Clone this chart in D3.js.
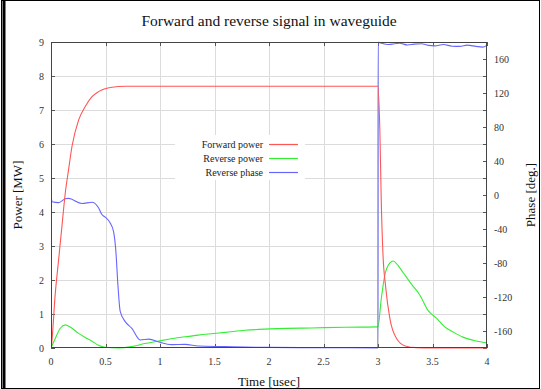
<!DOCTYPE html>
<html>
<head>
<meta charset="utf-8">
<script src="https://cdn.jsdelivr.net/npm/d3@7"></script>
<style>
  body { margin: 0; background: #fff; }
  svg { display: block; font-family: "Liberation Serif", "DejaVu Serif", serif; }
</style>
</head>
<body>
<svg id="chart" width="541" height="389"></svg>
<script>
// time axis (usec)
const timeTicks = [0, 0.5, 1, 1.5, 2, 2.5, 3, 3.5, 4];
const powerTicks = [0, 1, 2, 3, 4, 5, 6, 7, 8, 9];
const phaseLabelTicks = [-160, -120, -80, -40, 0, 40, 80, 120, 160];

// Forward power [MW]
const fwdTime = [0, 0.003, 0.039, 0.07, 0.10, 0.131, 0.161, 0.192, 0.253, 0.314, 0.376, 0.436, 0.559, 0.68, 1.0, 2.0, 2.999,
  3.017, 3.03, 3.045, 3.07, 3.11, 3.17, 3.25, 3.35, 3.5, 4.0];
const fwdPower = [0, 0.05, 1.6, 2.6, 3.57, 4.56, 5.24, 5.92, 6.7, 7.1, 7.39, 7.54, 7.67, 7.7, 7.7, 7.7, 7.7,
  6.4, 4.3, 2.8, 1.8, 0.85, 0.28, 0.06, 0.01, 0, 0];

// Reverse power [MW]
const revTime = [0, 0.039, 0.085, 0.131, 0.192, 0.253, 0.314, 0.376, 0.436, 0.497, 0.62, 0.74, 0.86, 0.98, 1.1, 1.23, 1.35,
  1.47, 1.6, 1.78, 2.08, 2.39, 2.7, 2.999, 3.03, 3.063, 3.109, 3.139, 3.185, 3.23, 3.307, 3.383, 3.46, 3.536, 3.612,
  3.689, 3.78, 3.872, 3.963, 4.0];
const revPower = [0, 0.28, 0.58, 0.68, 0.58, 0.43, 0.31, 0.2, 0.08, 0.02, 0.0, 0.04, 0.13, 0.2, 0.27, 0.33, 0.38,
  0.42, 0.46, 0.52, 0.57, 0.59, 0.61, 0.62, 1.45, 2.15, 2.5, 2.56, 2.42, 2.22, 1.88, 1.56, 1.1, 0.88, 0.62,
  0.47, 0.32, 0.23, 0.17, 0.15];

// Reverse phase [deg.]
const phaseTime = [0, 0.01, 0.07, 0.131, 0.161, 0.284, 0.376, 0.436, 0.467, 0.497, 0.543, 0.574, 0.595, 0.614, 0.635,
  0.681, 0.742, 0.818, 0.9, 0.99, 1.108, 1.23, 1.352, 1.597, 1.78, 2.0, 2.5, 2.999,
  3.001, 3.05, 3.1, 3.15, 3.2, 3.27, 3.33, 3.4, 3.46, 3.52, 3.6, 3.68, 3.75, 3.82, 3.9, 3.96, 4.0];
const phaseDeg = [0, -8, -9, -4.5, -4, -10, -8.5, -15, -23, -26, -33, -43, -66, -106, -137,
  -149, -157, -170.5, -169.5, -173, -176, -175.7, -177.7, -178.4, -179, -179.3, -179.6, -179.8,
  179.5, 178, 177, 178, 178.5, 176.5, 177.5, 178, 176, 175.5, 177, 175, 174.8, 176.3, 174.8, 174, 176];

const svg = d3.select('#chart');
const W = 541, H = 389;
const plotLeft = 51, plotRight = 487, plotTop = 42, plotBottom = 348;

const x = d3.scaleLinear().domain([0, 4]).range([plotLeft, plotRight]);
const y = d3.scaleLinear().domain([0, 9]).range([plotBottom, plotTop]);
const y2 = d3.scaleLinear().domain([-180, 180]).range([plotBottom, plotTop]);

// outer frame
svg.append('rect').attr('x', 0).attr('y', 0).attr('width', W).attr('height', H).attr('fill', '#fff');
svg.append('rect').attr('x', 1.5).attr('y', 0.5).attr('width', W - 3).attr('height', H - 1)
  .attr('fill', 'none').attr('stroke', '#000').attr('stroke-width', 1);
svg.append('line').attr('x1', 4).attr('x2', 4).attr('y1', 0).attr('y2', H)
  .attr('stroke', '#000').attr('stroke-width', 3);

// grid
const grid = svg.append('g').attr('stroke', '#dcdcdc').attr('stroke-width', 1);
grid.selectAll('.gx').data(timeTicks.slice(1, -1)).join('line')
  .attr('x1', d => Math.round(x(d)) + 0.5).attr('x2', d => Math.round(x(d)) + 0.5)
  .attr('y1', plotTop).attr('y2', plotBottom);
grid.selectAll('.gy').data(powerTicks.slice(1, -1)).join('line')
  .attr('x1', plotLeft).attr('x2', plotRight)
  .attr('y1', d => Math.round(y(d)) + 0.5).attr('y2', d => Math.round(y(d)) + 0.5);

// ticks (inward)
const tk = svg.append('g').attr('stroke', '#555').attr('stroke-width', 1);
tk.selectAll('.tb').data(timeTicks).join('line')
  .attr('x1', d => Math.round(x(d)) + 0.5).attr('x2', d => Math.round(x(d)) + 0.5)
  .attr('y1', plotBottom).attr('y2', plotBottom - 4);
tk.selectAll('.tt').data(timeTicks).join('line')
  .attr('x1', d => Math.round(x(d)) + 0.5).attr('x2', d => Math.round(x(d)) + 0.5)
  .attr('y1', plotTop).attr('y2', plotTop + 4);
tk.selectAll('.tl').data(powerTicks).join('line')
  .attr('x1', plotLeft).attr('x2', plotLeft + 4)
  .attr('y1', d => Math.round(y(d)) + 0.5).attr('y2', d => Math.round(y(d)) + 0.5);
tk.selectAll('.tr').data(d3.range(-180, 181, 20)).join('line')
  .attr('x1', plotRight).attr('x2', plotRight - 4)
  .attr('y1', d => Math.round(y2(d)) + 0.5).attr('y2', d => Math.round(y2(d)) + 0.5);

// tick labels
const lab = svg.append('g').attr('font-size', 10).attr('fill', '#333');
lab.selectAll('.lx').data(timeTicks).join('text')
  .attr('x', d => x(d)).attr('y', 365).attr('text-anchor', 'middle').text(d => d);
lab.selectAll('.ly').data(powerTicks).join('text')
  .attr('x', 44).attr('y', d => y(d) + 3.5).attr('text-anchor', 'end').text(d => d);
lab.selectAll('.ly2').data(phaseLabelTicks).join('text')
  .attr('x', 494).attr('y', d => y2(d) + 3.5).attr('text-anchor', 'start').text(d => d);

// legend (opaque key)
const legendItems = [
  { name: 'Forward power', color: '#ff5555' },
  { name: 'Reverse power', color: '#33ee33' },
  { name: 'Reverse phase', color: '#6666ff' }
];
svg.append('rect').attr('x', 175).attr('y', 135).attr('width', 130).attr('height', 45).attr('fill', '#fff');
const lg = svg.append('g').attr('font-size', 10).attr('fill', '#222');
legendItems.forEach((d, i) => {
  const ly = 144 + i * 14;
  lg.append('text').attr('x', 263).attr('y', ly + 3.5).attr('text-anchor', 'end').text(d.name);
  lg.append('line').attr('x1', 269).attr('x2', 298).attr('y1', ly + 0.5).attr('y2', ly + 0.5)
    .attr('stroke', d.color).attr('stroke-width', 1.2);
});

// curves
svg.append('clipPath').attr('id', 'plotclip').append('rect')
  .attr('x', plotLeft).attr('y', plotTop - 1).attr('width', plotRight - plotLeft).attr('height', plotBottom - plotTop + 2);
const plot = svg.append('g').attr('clip-path', 'url(#plotclip)');

const powerLine = d3.line().x(d => x(d[0])).y(d => y(d[1])).curve(d3.curveMonotoneX);
const phaseLine = d3.line().x(d => x(d[0])).y(d => y2(d[1])).curve(d3.curveMonotoneX);

plot.append('path').datum(d3.zip(revTime, revPower)).attr('d', powerLine)
  .attr('fill', 'none').attr('stroke', legendItems[1].color).attr('stroke-width', 1.1);
plot.append('path').datum(d3.zip(phaseTime, phaseDeg)).attr('d', phaseLine)
  .attr('fill', 'none').attr('stroke', legendItems[2].color).attr('stroke-width', 1.1);
plot.append('path').datum(d3.zip(fwdTime, fwdPower)).attr('d', powerLine)
  .attr('fill', 'none').attr('stroke', legendItems[0].color).attr('stroke-width', 1.1);

// plot border
svg.append('rect').attr('x', plotLeft + 0.5).attr('y', plotTop + 0.5)
  .attr('width', plotRight - plotLeft - 1).attr('height', plotBottom - plotTop - 1)
  .attr('fill', 'none').attr('stroke', '#444').attr('stroke-width', 1);

// titles
svg.append('text').attr('x', 269).attr('y', 26).attr('text-anchor', 'middle')
  .attr('font-size', 15.5).attr('fill', '#111').text('Forward and reverse signal in waveguide');
svg.append('text').attr('x', 269).attr('y', 386).attr('text-anchor', 'middle')
  .attr('font-size', 13).attr('fill', '#111').text('Time [usec]');
svg.append('text').attr('transform', 'translate(22,195) rotate(-90)').attr('text-anchor', 'middle')
  .attr('font-size', 13).attr('fill', '#111').text('Power [MW]');
svg.append('text').attr('transform', 'translate(535,195) rotate(-90)').attr('text-anchor', 'middle')
  .attr('font-size', 13).attr('fill', '#111').text('Phase [deg.]');
</script>
</body>
</html>
